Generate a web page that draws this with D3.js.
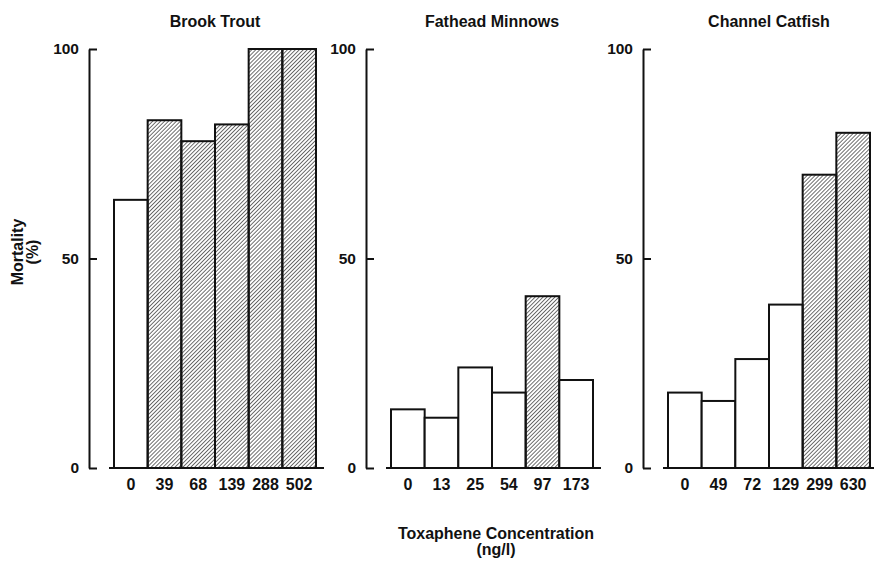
<!DOCTYPE html>
<html>
<head>
<meta charset="utf-8">
<script src="https://cdn.jsdelivr.net/npm/d3@7/dist/d3.min.js"></script>
<style>
  html, body { margin: 0; padding: 0; background: #fff; }
  svg text { font-family: "Liberation Sans", Arial, Helvetica, sans-serif; font-weight: bold; fill: #111; }
</style>
</head>
<body>
<svg id="chart" width="874" height="561"></svg>
<script>
// Species panels
const species = ["Brook Trout", "Fathead Minnows", "Channel Catfish"];

// Toxaphene concentrations (ng/l) per species
const troutConc = ["0", "39", "68", "139", "288", "502"];
const minnowConc = ["0", "13", "25", "54", "97", "173"];
const catfishConc = ["0", "49", "72", "129", "299", "630"];

// Mortality (%) per concentration
const troutMortality = [64, 83, 78, 82, 100, 100];
const minnowMortality = [14, 12, 24, 18, 41, 21];
const catfishMortality = [18, 16, 26, 39, 70, 80];

// Significantly different from control (hatched bars)
const troutSignificant = [false, true, true, true, true, true];
const minnowSignificant = [false, false, false, false, true, false];
const catfishSignificant = [false, false, false, false, true, true];

const yTicks = [0, 50, 100];

const panels = [
  { title: species[0], conc: troutConc, values: troutMortality, sig: troutSignificant },
  { title: species[1], conc: minnowConc, values: minnowMortality, sig: minnowSignificant },
  { title: species[2], conc: catfishConc, values: catfishMortality, sig: catfishSignificant }
];

const svg = d3.select("#chart");

// Diagonal hatch fill
const defs = svg.append("defs");
defs.append("pattern")
  .attr("id", "hatch")
  .attr("patternUnits", "userSpaceOnUse")
  .attr("width", 2.8)
  .attr("height", 2.8)
  .attr("patternTransform", "rotate(45)")
  .append("line")
  .attr("x1", 0).attr("y1", 0)
  .attr("x2", 0).attr("y2", 2.8)
  .attr("stroke", "#222")
  .attr("stroke-width", 1.3);

const y = d3.scaleLinear().domain([0, 100]).range([468, 49]);

const panelStep = 277;
const axisX0 = 89;
const barOffset = 25;
const barSpan = 202;
const labelFont = "Liberation Sans, Arial, sans-serif";

panels.forEach((p, i) => {
  const ax = axisX0 + i * panelStep;
  const g = svg.append("g");

  const x = d3.scaleBand()
    .domain(p.conc)
    .range([ax + barOffset, ax + barOffset + barSpan])
    .padding(0);

  // y axis with inward ticks
  const yAxis = d3.axisLeft(y)
    .tickValues(yTicks)
    .tickSizeInner(-8)
    .tickSizeOuter(0)
    .tickPadding(10)
    .tickFormat(d3.format("d"));

  const yg = g.append("g")
    .attr("transform", `translate(${ax},0)`)
    .call(yAxis);
  yg.select(".domain").attr("stroke", "#111").attr("stroke-width", 2);
  yg.selectAll(".tick line").attr("stroke", "#111").attr("stroke-width", 2);
  yg.selectAll(".tick text")
    .attr("font-size", 15.5)
    .attr("font-family", labelFont)
    .attr("font-weight", "bold")
    .attr("fill", "#111");

  // Bars
  g.selectAll("rect.bar")
    .data(p.values)
    .join("rect")
    .attr("class", "bar")
    .attr("x", (d, j) => x(p.conc[j]))
    .attr("width", x.bandwidth())
    .attr("y", d => y(d))
    .attr("height", d => y(0) - y(d))
    .attr("fill", (d, j) => p.sig[j] ? "url(#hatch)" : "#fff")
    .attr("stroke", "#111")
    .attr("stroke-width", 2);

  // Baseline under bars
  const x0 = x.range()[0];
  const x1 = x.range()[1];
  g.append("line")
    .attr("x1", x0 - 5).attr("x2", x1 + 8)
    .attr("y1", y(0)).attr("y2", y(0))
    .attr("stroke", "#111")
    .attr("stroke-width", 2);

  // Concentration labels
  const xAxis = d3.axisBottom(x).tickSize(0).tickPadding(11);
  const xg = g.append("g")
    .attr("transform", `translate(0,${y(0)})`)
    .call(xAxis);
  xg.select(".domain").remove();
  xg.selectAll(".tick text")
    .attr("font-size", 16)
    .attr("font-family", labelFont)
    .attr("font-weight", "bold")
    .attr("fill", "#111");

  // Panel title
  g.append("text")
    .attr("x", (x0 + x1) / 2)
    .attr("y", 27)
    .attr("text-anchor", "middle")
    .attr("font-size", 16)
    .text(p.title);
});

// Y axis title
const yTitle = svg.append("text")
  .attr("transform", "translate(23,252) rotate(-90)")
  .attr("text-anchor", "middle")
  .attr("font-size", 16);
yTitle.append("tspan").attr("x", 0).attr("dy", 0).text("Mortality");
yTitle.append("tspan").attr("x", 0).attr("dy", 15).text("(%)");

// X axis title
const xTitle = svg.append("text")
  .attr("x", 496)
  .attr("y", 539)
  .attr("text-anchor", "middle")
  .attr("font-size", 16);
xTitle.append("tspan").attr("x", 496).text("Toxaphene Concentration");
xTitle.append("tspan").attr("x", 496).attr("dy", 16).text("(ng/l)");
</script>
</body>
</html>
